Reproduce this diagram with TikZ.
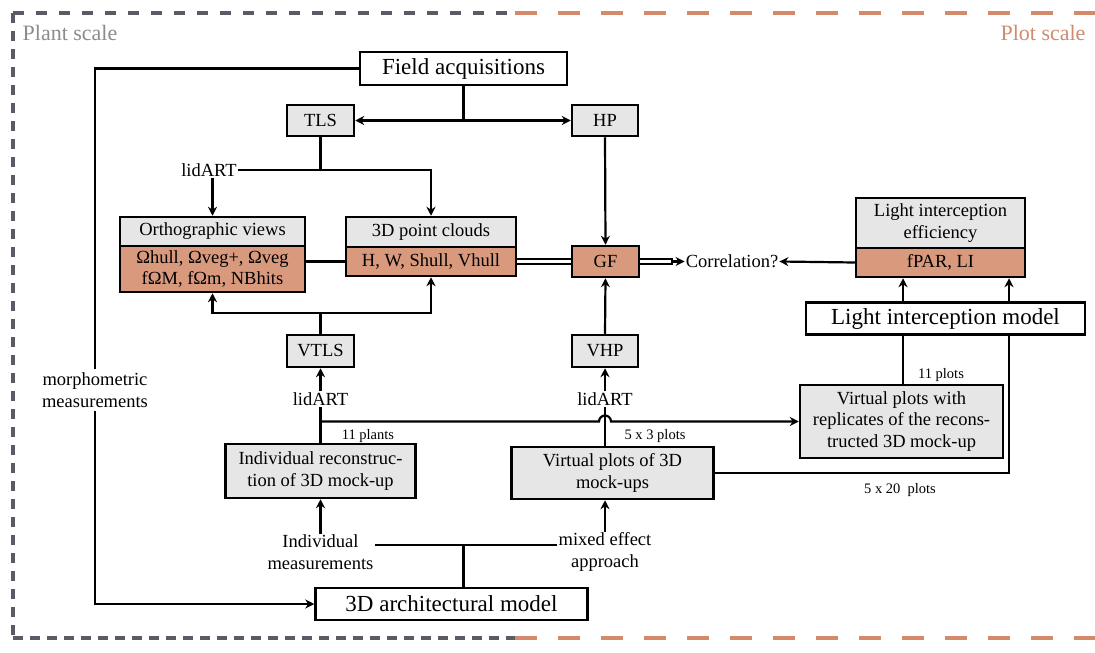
\documentclass[tikz,border=0pt]{standalone}
\usepackage{fontspec}
\setmainfont{Liberation Serif}
\usetikzlibrary{arrows.meta, positioning, calc}
\definecolor{hdrgrey}{HTML}{E6E6E6}
\definecolor{valfill}{HTML}{D9997D}
\definecolor{plantcol}{HTML}{595C64}
\definecolor{plotcol}{HTML}{D4896C}
\definecolor{planttxt}{HTML}{8C8C8C}
\definecolor{plottxt}{HTML}{D08A6E}

\begin{document}
\begin{tikzpicture}[x=1pt, y=-1pt,
    every node/.style={font=\fontsize{18.5}{21.5}\selectfont, inner sep=1pt},
    conn/.style={line width=2.2pt, -{Stealth[length=9pt,width=9pt,inset=3pt]}},
    link/.style={line width=2.2pt},
    dbl/.style={line width=2pt, double, double distance=2.6pt},
    mainbox/.style={draw, line width=2.5pt, fill=white, font=\fontsize{23}{26}\selectfont},
    hdrbox/.style={draw, line width=2.5pt, fill=hdrgrey, align=center},
    valbox/.style={draw, line width=2.5pt, fill=valfill, align=center},
    lbl/.style={font=\fontsize{14.5}{16}\selectfont}]
  \useasboundingbox (0,0) rectangle (1095,653);

  % scale frames
  \draw[plantcol, line width=3.5pt, dash pattern=on 11pt off 12pt] (13,13) -- (515,13);
  \draw[plantcol, line width=3.5pt, dash pattern=on 10pt off 8pt] (13,13) -- (13,638);
  \draw[plantcol, line width=3.5pt, dash pattern=on 10pt off 7pt] (13,638) -- (515,638);
  \draw[plotcol, line width=3.5pt, dash pattern=on 22pt off 21pt] (515,13) -- (1095,13);
  \draw[plotcol, line width=3.5pt, dash pattern=on 22pt off 21pt] (515,638) -- (1095,638);
  \node[text=planttxt, font=\fontsize{22}{24}\selectfont] (plantlbl) at (70,33) {Plant scale};
  \node[text=plottxt, font=\fontsize{22}{24}\selectfont] (plotlbl) at (1043,33) {Plot scale};

  % boxes
  \node[mainbox, minimum width=207, minimum height=33] (field) at (463.5,68.5) {Field acquisitions};
  \node[hdrbox, minimum width=67, minimum height=31] (tls) at (320.5,120.5) {TLS};
  \node[hdrbox, minimum width=66, minimum height=31] (hp) at (605,120.5) {HP};
  \node (lid1) at (209,170) {lidART};
  \node[hdrbox, minimum width=185, minimum height=29] (orthoH) at (212.5,231.5) {Orthographic views};
  \node[valbox, minimum width=185, minimum height=46, below=-2.5pt of orthoH] (orthoB) {Ωhull, Ωveg+, Ωveg\\fΩM, fΩm, NBhits};
  \node[hdrbox, minimum width=170, minimum height=30] (pcH) at (431,232) {3D point clouds};
  \node[valbox, minimum width=170, minimum height=29, below=-2.5pt of pcH] (pcB) {H, W, Shull, Vhull};
  \node[valbox, minimum width=67, minimum height=31] (gf) at (605.5,261.5) {GF};
  \node (corr) at (732,261.5) {Correlation?};
  \node[hdrbox, minimum width=169, minimum height=50] (lieH) at (940.5,223) {Light interception\\efficiency};
  \node[valbox, minimum width=169, minimum height=29, below=-2.5pt of lieH] (lieB) {fPAR, LI};
  \node[mainbox, minimum width=279, minimum height=32] (lim) at (945.5,318.5) {Light interception model};
  \node[hdrbox, minimum width=67, minimum height=32] (vtls) at (320.5,351) {VTLS};
  \node[hdrbox, minimum width=66, minimum height=32] (vhp) at (605,351) {VHP};
  \node (lid2) at (320.5,399) {lidART};
  \node (lid3) at (605,399) {lidART};
  \node[hdrbox, minimum width=203, minimum height=73] (rep) at (901.5,421.5) {Virtual plots with\\replicates of the recons-\\tructed 3D mock-up};
  \node[hdrbox, minimum width=190, minimum height=54] (ind) at (320.5,471) {Individual reconstruc-\\tion of 3D mock-up};
  \node[hdrbox, minimum width=202, minimum height=52] (vp) at (612.5,473) {Virtual plots of 3D\\mock-ups};
  \node[align=center] (meas) at (320.5,552) {Individual\\measurements};
  \node[align=center] (mix) at (605,552) {mixed effect\\approach};
  \node[mainbox, minimum width=272, minimum height=32] (arch) at (451.5,604) {3D architectural model};
  \node[align=center, fill=white, inner ysep=4pt] (morph) at (95,390) {morphometric\\measurements};
  \node[lbl] (nplants) at (368,436) {11 plants};
  \node[lbl] (nvp) at (655,436) {5 x 3 plots};
  \node[lbl] (nrep) at (941,375) {11 plots};
  \node[lbl] (nvp2) at (900,490) {5 x 20~~plots};

  % connectors
  \coordinate (fsplit) at (463.5,120.5);
  \draw[link] (field.south) -- (fsplit);
  \draw[conn] (fsplit) -- (tls.east);
  \draw[conn] (fsplit) -- (hp.west);
  \draw[link] (tls.south) -- (tls.south |- lid1.east);
  \draw[conn] (lid1.east) -| (pcH.north);
  \draw[conn] (lid1.south -| orthoH.north) -- (orthoH.north);
  \draw[link] (pcB.west) -- (pcB.west -| orthoB.east);
  \draw[dbl] (pcB.east) -- (gf.west);
  \draw[conn] (hp.south) -- (gf.north);
  \draw[dbl] (gf.east) -- ([xshift=-12pt]corr.west);
  \draw[conn] ([xshift=-14pt]corr.west) -- (corr.west);
  \draw[conn] (lieB.west) -- (corr.east);
  \draw[conn] ([xshift=-42.5pt]lim.north) -- ([xshift=-42.5pt]lim.north |- lieB.south);
  \draw[conn] ([xshift=63.5pt]lim.north) -- ([xshift=63.5pt]lim.north |- lieB.south);
  \draw[link] ([xshift=-42.5pt]lim.south) -- ([xshift=-42.5pt]lim.south |- rep.north);
  \draw[link] (vp.east) -| ([xshift=63.5pt]lim.south);
  \coordinate (vsplit) at (320.5,313);
  \draw[link] (vtls.north) -- (vsplit);
  \draw[conn] (vsplit) -| (orthoB.south);
  \draw[conn] (vsplit) -| (pcB.south);
  \draw[conn] (vhp.north) -- (gf.south);
  \draw[conn] (lid2.north) -- (vtls.south);
  \draw[conn] (lid3.north) -- (vhp.south);
  \draw[link] (ind.north) -- (lid2.south);
  \draw[link] (lid3.south |- vp.north) -- (lid3.south);
  \coordinate (hopA) at (320.5,421.5);
  \draw[conn] (hopA) -- ($(lid3.south |- hopA)+(-6,0)$) arc[start angle=180, end angle=360, radius=6] -- (rep.west);
  \draw[conn] (meas.north) -- (ind.south);
  \draw[conn] (mix.north) -- (mix.north |- vp.south);
  \draw[link] ([yshift=7pt]meas.east) -- ([yshift=7pt]meas.east -| mix.west);
  \coordinate (msplit) at (463.5,545);
  \draw[link] (msplit) -- (msplit |- arch.north);
  \draw[link] (field.west) -| (morph.north);
  \draw[conn] (morph.south) |- (arch.west);
\end{tikzpicture}
\end{document}
